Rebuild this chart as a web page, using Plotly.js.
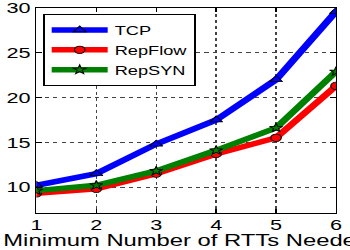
<!DOCTYPE html>
<html><head><meta charset="utf-8">
<script src="https://cdn.plot.ly/plotly-3.0.1.min.js"></script>
<style>
html,body{margin:0;padding:0;background:#fff;overflow:hidden;width:350px;height:250px}
#chart{width:250px;height:250px;transform:scaleX(1.4);transform-origin:0 0}
</style>
</head><body><div id="chart"></div>
<script>
const rtts = [1, 2, 3, 4, 5, 6];
const tcp = [10.2, 11.5, 14.8, 17.5, 22.0, 29.6];
const repFlow = [9.3, 9.8, 11.5, 13.7, 15.5, 21.3];
const repSyn = [9.6, 10.2, 11.8, 14.1, 16.6, 22.9];
const xTicks = [1, 2, 3, 4, 5, 6];
const yTicks = [10, 15, 20, 25, 30];

const font = {family: 'Liberation Sans, Arial, sans-serif', color: '#000'};
function tr(name, y, color, symbol, size) {
  return {x: rtts, y: y, name: name, type: 'scatter', mode: 'lines+markers',
    line: {color: color, width: 5.5},
    marker: {symbol: symbol, size: size, color: color, line: {color: '#000', width: 0.8}}};
}
const data = [
  tr('TCP', tcp, '#0000ff', 'triangle-up', 8),
  tr('RepFlow', repFlow, '#ff0000', 'circle', 7.5),
  tr('RepSYN', repSyn, '#008000', 'star', 7)
];
const axisCommon = {showline: true, linecolor: '#000', linewidth: 1, mirror: 'ticks',
  ticks: 'inside', ticklen: 4, tickcolor: '#000', showgrid: true, gridcolor: '#444',
  griddash: 'dot', gridwidth: 1, zeroline: false, ticklabeloverflow: 'allow',
  tickfont: Object.assign({size: 15.5}, font)};
const layout = {
  width: 250, height: 250,
  margin: {l: 25.7, r: 10, t: 8, b: 37},
  paper_bgcolor: '#fff', plot_bgcolor: '#fff',
  showlegend: true,
  legend: {x: 0.023, y: 0.971, xanchor: 'left', yanchor: 'top', bgcolor: '#fff',
    bordercolor: '#000', borderwidth: 1, font: Object.assign({size: 13}, font),
    itemwidth: 40, tracegroupgap: 0},
  xaxis: Object.assign({}, axisCommon, {range: [1, 6], tickvals: xTicks, ticklabelstandoff: -3,
    title: {text: 'Minimum Number of RTTs Needed', font: Object.assign({size: 17}, font), standoff: 7}}),
  yaxis: Object.assign({}, axisCommon, {range: [7.1, 30], tickvals: yTicks})
};
Plotly.newPlot('chart', data, layout, {displayModeBar: false, staticPlot: true});
</script></body></html>
